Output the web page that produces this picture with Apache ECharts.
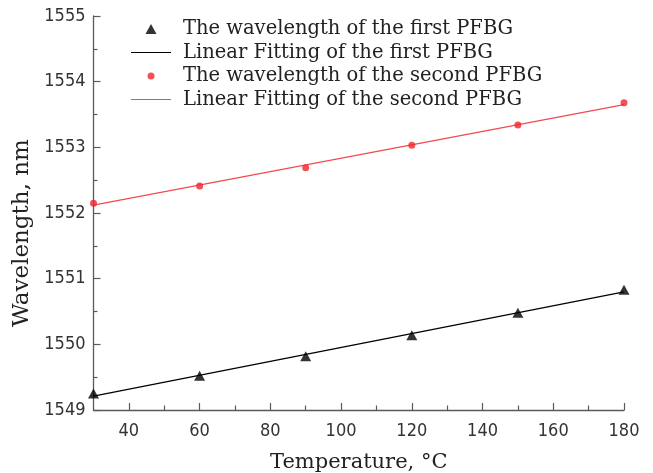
<!DOCTYPE html>
<html>
<head>
<meta charset="utf-8">
<script src="https://cdn.jsdelivr.net/npm/echarts@6/dist/echarts.min.js"></script>
<style>
html,body{margin:0;padding:0;background:#fff;}
#chart{width:653px;height:473px;}
</style>
</head>
<body>
<div id="chart"></div>
<script>
// Data
var temperatures = [30, 60, 90, 120, 150, 180];
var firstWavelength = [1549.25, 1549.52, 1549.82, 1550.14, 1550.48, 1550.83];
var secondWavelength = [1552.15, 1552.41, 1552.69, 1553.03, 1553.34, 1553.68];
var fitTemps = [30, 180];
var firstFit = [1549.21, 1550.80];
var secondFit = [1552.12, 1553.65];
var xTickLabels = [40, 60, 80, 100, 120, 140, 160, 180];
var xMinorTicks = [50, 70, 90, 110, 130, 150, 170];
var yTickLabels = [1549, 1550, 1551, 1552, 1553, 1554, 1555];
var seriesNames = [
  'The wavelength of the first PFBG',
  'Linear Fitting of the first PFBG',
  'The wavelength of the second PFBG',
  'Linear Fitting of the second PFBG'
];

function pairs(xs, ys) { return xs.map(function (x, i) { return [x, ys[i]]; }); }

var axisColor = '#5a5a5a';
var serif = "'DejaVu Serif', serif";
var labelFont = "'Liberation Sans Narrow', 'DejaVu Sans Condensed', 'Liberation Sans', sans-serif";
var lineIcon = 'path://M0,0L40,0L40,1.2L0,1.2Z';
var triangleIcon = 'path://M0,10L5.5,0L11,10Z';
var circleIcon = 'path://M0,0M10,10M8.5,5A3.5,3.5,0,1,1,1.5,5A3.5,3.5,0,1,1,8.5,5Z';

var chart = echarts.init(document.getElementById('chart'), null, {renderer: 'canvas'});
chart.setOption({
  backgroundColor: '#fff',
  animation: false,
  grid: {left: 93.5, right: 29, top: 16, bottom: 63, containLabel: false, outerBoundsMode: 'none'},
  legend: {
    orient: 'vertical',
    left: 126,
    top: 14,
    itemWidth: 40,
    itemHeight: 10,
    itemGap: 3.5,
    symbolKeepAspect: true,
    textStyle: {fontFamily: serif, fontSize: 19.5, color: '#222', lineHeight: 20, padding: [0, 0, 0, 7]},
    data: [
      {name: seriesNames[0], icon: triangleIcon},
      {name: seriesNames[1], icon: lineIcon},
      {name: seriesNames[2], icon: circleIcon},
      {name: seriesNames[3], icon: lineIcon}
    ]
  },
  xAxis: [{
    type: 'value', min: 30, max: 180,
    name: 'Temperature, °C', nameLocation: 'middle', nameGap: 42,
    nameTextStyle: {fontFamily: serif, fontSize: 21, color: '#222'},
    axisLine: {show: true, lineStyle: {color: axisColor, width: 1.3}},
    axisTick: {show: true, inside: true, length: 7, lineStyle: {color: axisColor, width: 1.2}, customValues: xTickLabels},
    axisLabel: {show: true, customValues: xTickLabels, margin: 12, fontFamily: labelFont, fontSize: 18, color: '#333'},
    splitLine: {show: false}
  }, {
    type: 'value', min: 30, max: 180, position: 'bottom',
    axisLine: {show: false},
    axisTick: {show: true, inside: true, length: 4.5, lineStyle: {color: axisColor, width: 1.2}, customValues: xMinorTicks},
    axisLabel: {show: false},
    splitLine: {show: false}
  }],
  yAxis: {
    type: 'value', min: 1549, max: 1555, interval: 1,
    name: 'Wavelength, nm', nameLocation: 'middle', nameGap: 43,
    nameTextStyle: {fontFamily: serif, fontSize: 23, color: '#222', padding: [0, 40, 0, 0]},
    axisLine: {show: true, lineStyle: {color: axisColor, width: 1.3}},
    axisTick: {show: true, inside: true, length: 7, lineStyle: {color: axisColor, width: 1.2}},
    minorTick: {show: true, splitNumber: 2, length: 4, lineStyle: {color: axisColor, width: 1.2}},
    axisLabel: {show: true, customValues: yTickLabels, margin: 8, padding: [4, 0, 0, 0], fontFamily: labelFont, fontSize: 18, color: '#333',
      formatter: function (v) { return String(v); }},
    splitLine: {show: false}
  },
  series: [{
    name: seriesNames[0], type: 'scatter', symbol: 'triangle', symbolSize: [11, 10],
    itemStyle: {color: '#000'}, data: pairs(temperatures, firstWavelength), z: 3
  }, {
    name: seriesNames[1], type: 'line', symbol: 'none', showSymbol: false,
    lineStyle: {color: '#000', width: 1.2}, itemStyle: {color: '#000'},
    data: pairs(fitTemps, firstFit), z: 2
  }, {
    name: seriesNames[2], type: 'scatter', symbol: 'circle', symbolSize: 7,
    itemStyle: {color: '#f0262c'}, data: pairs(temperatures, secondWavelength), z: 3
  }, {
    name: seriesNames[3], type: 'line', symbol: 'none', showSymbol: false,
    lineStyle: {color: '#f34a4f', width: 1.3}, itemStyle: {color: '#f34a4f'},
    data: pairs(fitTemps, secondFit), z: 2
  }]
});
</script>
</body>
</html>
